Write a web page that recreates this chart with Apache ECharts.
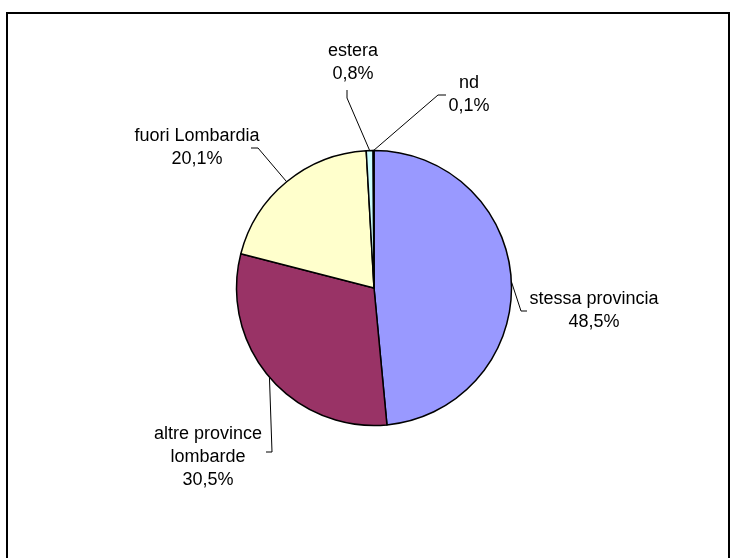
<!DOCTYPE html>
<html>
<head>
<meta charset="utf-8">
<script src="https://cdn.jsdelivr.net/npm/echarts@6/dist/echarts.min.js"></script>
<style>
  html, body { margin: 0; padding: 0; background: #fff; }
  #chart { width: 731px; height: 558px; }
</style>
</head>
<body>
<div id="chart"></div>
<script>
// Provenienza: quote percentuali
const categories = ['stessa provincia', 'altre province\nlombarde', 'fuori Lombardia', 'estera', 'nd'];
const shares = [48.5, 30.5, 20.1, 0.8, 0.1];
const colors = ['#9999FF', '#993366', '#FFFFCC', '#CCFFFF', '#660066'];

// label placement (block centre) and the elbow / end of each leader line
const labelPos = [[594, 311], [208, 457], [197, 148], [353, 63], [469, 95]];
const leaderBend = [[521, 311], [272, 452], [258, 148], [347, 98], [438, 95]];
const leaderEnd = [[527, 311], [266, 452], [251, 148], [347, 90], [446, 95]];

const fmt = v => v.toFixed(1).replace('.', ',') + '%';

const chart = echarts.init(document.getElementById('chart'), null, { renderer: 'canvas' });

chart.setOption({
  backgroundColor: '#ffffff',
  animation: false,
  graphic: [{
    type: 'rect',
    shape: { x: 7, y: 13, width: 722, height: 560 },
    style: { fill: 'none', stroke: '#000', lineWidth: 2 },
    silent: true
  }],
  series: [{
    type: 'pie',
    center: [374, 288],
    radius: 137.5,
    startAngle: 90,
    clockwise: true,
    avoidLabelOverlap: false,
    data: categories.map((name, i) => ({
      name: name,
      value: shares[i],
      itemStyle: { color: colors[i] }
    })),
    itemStyle: { borderColor: '#000', borderWidth: 1.5 },
    label: {
      show: true,
      color: '#000',
      fontFamily: 'Arial, "Liberation Sans", sans-serif',
      fontSize: 18,
      lineHeight: 23,
      align: 'center',
      formatter: p => p.name + '\n' + fmt(p.value)
    },
    labelLine: {
      show: true,
      length: 10,
      length2: 10,
      lineStyle: { color: '#000', width: 1 }
    },
    emphasis: { disabled: true },
    labelLayout: function (params) {
      const i = params.dataIndex;
      const start = params.labelLinePoints ? params.labelLinePoints[0] : null;
      const out = {
        x: labelPos[i][0],
        y: labelPos[i][1],
        align: 'center',
        verticalAlign: 'middle'
      };
      if (start) {
        out.labelLinePoints = [start, leaderBend[i], leaderEnd[i]];
      }
      return out;
    }
  }]
});
</script>
</body>
</html>
